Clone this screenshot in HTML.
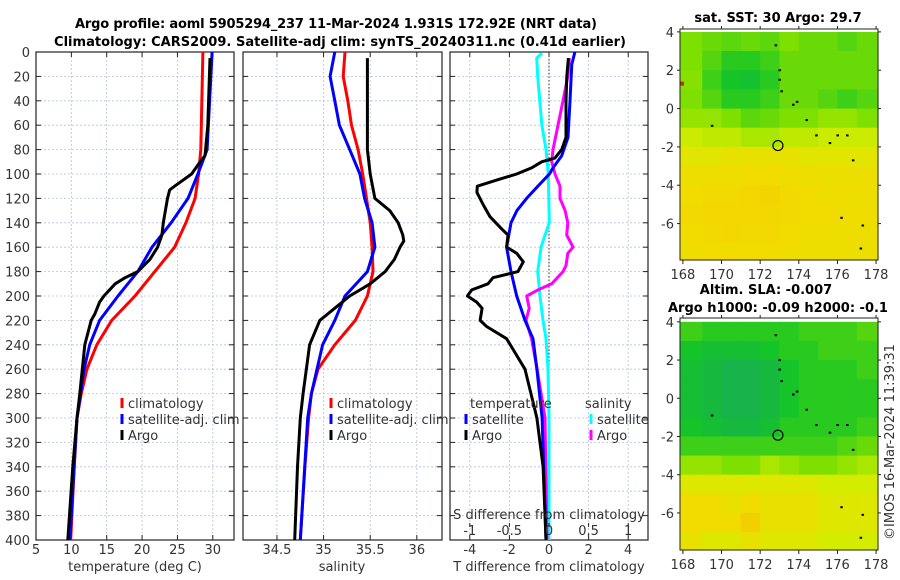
<!DOCTYPE html>
<html><head><meta charset="utf-8"><style>
html,body{margin:0;padding:0;background:#fff;}
svg{display:block;font-family:"DejaVu Sans","Liberation Sans",sans-serif;}
.tk{font-size:13px;fill:#333;}
.tt{font-size:13px;font-weight:bold;fill:#000;}
</style></head><body>
<svg id="c" width="900" height="580" viewBox="0 0 900 580" xmlns="http://www.w3.org/2000/svg">
<text class="tt" x="336" y="28" text-anchor="middle" textLength="522">Argo profile: aoml 5905294_237 11-Mar-2024 1.931S 172.92E (NRT data)</text>
<text class="tt" x="340" y="46" text-anchor="middle" textLength="572">Climatology: CARS2009. Satellite-adj clim: synTS_20240311.nc (0.41d earlier)</text>
<g id="g"></g>
<text class="tk" transform="translate(894,442) rotate(-90)" text-anchor="middle">©IMOS 16-Mar-2024 11:39:31</text>
</svg>
<script>
// ---- data ----
const tempDepthClim=[0,80,100,120,140,160,180,200,220,240,260,280,300,340,400];
const tempClim=[28.6,28.3,28.0,27.5,26.2,24.6,21.8,19.0,15.7,13.6,12.2,11.4,10.8,10.4,9.9];
const tempDepthSat=[0,80,100,120,140,160,180,200,220,240,260,300,400];
const tempSat=[29.9,29.2,27.9,26.5,24.1,21.4,19.4,16.6,14.0,12.6,11.8,10.8,9.8];
const tempDepthArgo=[5,60,85,90,100,110,113,120,140,150,160,170,180,185,190,200,205,215,220,240,280,300,340,400];
const tempArgo=[29.6,29.3,28.9,28.2,27.0,24.6,23.9,23.6,23.0,22.8,22.2,21.1,19.4,17.6,16.2,14.6,14.0,13.3,12.8,11.9,11.2,10.8,10.2,9.5];
const salDepthClim=[0,20,40,60,80,100,120,140,160,180,200,220,240,260,280,300,340,400];
const salClim=[35.23,35.21,35.26,35.30,35.37,35.42,35.46,35.50,35.52,35.53,35.47,35.34,35.12,34.94,34.87,34.84,34.80,34.75];
const salDepthSat=[0,20,40,60,80,100,120,140,160,180,200,220,240,280,300,400];
const salSat=[35.12,35.07,35.12,35.17,35.28,35.39,35.44,35.52,35.55,35.47,35.23,35.12,34.99,34.87,34.83,34.75];
const salDepthArgo=[5,80,100,120,130,140,150,155,160,170,180,190,200,210,220,240,280,300,340,400];
const salArgo=[35.47,35.47,35.50,35.55,35.71,35.80,35.85,35.86,35.82,35.76,35.66,35.50,35.28,35.12,34.96,34.85,34.78,34.75,34.72,34.69];
const dtDepthArgo=[5,20,40,70,80,87,90,95,100,105,110,115,125,135,145,150,160,165,172,180,185,190,195,200,205,210,220,225,235,260,300,340,400];
const dtArgo=[0.98,0.9,0.86,0.86,0.64,0.3,-0.37,-0.88,-1.63,-2.64,-3.62,-3.64,-3.33,-2.98,-2.39,-2.07,-2.14,-1.63,-1.3,-1.57,-2.83,-3.08,-3.9,-4.12,-3.65,-3.38,-3.48,-3.15,-2.14,-1.21,-0.61,-0.3,-0.15];
const dtDepthSat=[0,10,40,70,85,95,100,110,120,130,140,160,180,200,220,235,260,300,400];
const dtSat=[1.31,1.15,1.06,0.96,0.64,0.2,0.02,-0.56,-1.13,-1.62,-1.92,-2.14,-1.92,-1.63,-1.21,-0.81,-0.61,-0.35,-0.15];
const dsDepthSat=[1,5,20,60,80,100,140,150,160,180,200,220,235,260,300,400];
const dsSat=[-0.09,-0.155,-0.143,-0.09,-0.038,-0.009,0.004,-0.05,-0.1,-0.143,-0.114,-0.076,-0.038,-0.013,0,0];
const dsDepthArgo=[5,20,40,60,80,90,100,110,120,130,140,150,160,165,175,180,190,195,200,210,220,235,260,300,400];
const dsArgo=[0.257,0.237,0.177,0.114,0.051,0.034,0.076,0.139,0.139,0.203,0.237,0.224,0.304,0.237,0.215,0.177,0.034,-0.139,-0.282,-0.25,-0.29,-0.22,-0.15,-0.05,-0.025];
const depthTicks=[0,20,40,60,80,100,120,140,160,180,200,220,240,260,280,300,320,340,360,380,400];
const tempTicks=[5,10,15,20,25,30];
const salTicks=[34.5,35,35.5,36];
const dtTicks=[-4,-2,0,2,4];
const dsTickLabels=["-1","-0.5","0","0.5","1"];
const dsTicks=[-1,-0.5,0,0.5,1];
const mapLonTicks=[168,170,172,174,176,178];
const mapLatTicks=[4,2,0,-2,-4,-6];
const sstGrid=[
[0.5,0.45,0.42,0.45,0.42,0.5,0.45,0.45,0.4,0.45],
[0.5,0.4,0.3,0.3,0.35,0.45,0.45,0.45,0.45,0.45],
[0.52,0.35,0.25,0.22,0.3,0.45,0.45,0.45,0.45,0.45],
[0.5,0.4,0.3,0.3,0.35,0.45,0.45,0.4,0.35,0.4],
[0.55,0.55,0.5,0.42,0.45,0.5,0.5,0.55,0.55,0.5],
[0.68,0.65,0.65,0.6,0.6,0.65,0.65,0.68,0.68,0.68],
[0.77,0.77,0.8,0.8,0.8,0.8,0.77,0.77,0.77,0.77],
[0.83,0.83,0.84,0.85,0.85,0.84,0.83,0.82,0.82,0.82],
[0.85,0.86,0.86,0.87,0.88,0.86,0.85,0.84,0.83,0.83],
[0.86,0.87,0.87,0.87,0.87,0.86,0.85,0.85,0.84,0.84],
[0.85,0.86,0.87,0.86,0.86,0.85,0.84,0.84,0.83,0.83],
[0.84,0.85,0.85,0.85,0.85,0.84,0.83,0.83,0.82,0.82]];
const slaGrid=[
[0.35,0.3,0.3,0.3,0.3,0.3,0.35,0.35,0.35,0.4],
[0.25,0.2,0.2,0.2,0.25,0.3,0.3,0.35,0.35,0.35],
[0.2,0.15,0.1,0.1,0.15,0.25,0.3,0.3,0.3,0.35],
[0.2,0.15,0.1,0.1,0.15,0.25,0.3,0.3,0.3,0.3],
[0.2,0.15,0.1,0.1,0.15,0.25,0.3,0.3,0.3,0.3],
[0.25,0.2,0.15,0.15,0.2,0.3,0.3,0.3,0.3,0.35],
[0.35,0.35,0.35,0.35,0.35,0.35,0.35,0.35,0.4,0.45],
[0.55,0.55,0.5,0.5,0.6,0.55,0.5,0.5,0.55,0.6],
[0.75,0.75,0.75,0.75,0.75,0.75,0.75,0.7,0.7,0.7],
[0.85,0.85,0.8,0.85,0.8,0.8,0.8,0.75,0.75,0.75],
[0.85,0.85,0.85,0.9,0.8,0.8,0.8,0.75,0.75,0.75],
[0.8,0.75,0.75,0.8,0.75,0.75,0.75,0.7,0.7,0.7]];
const islandLon=[172.8,173.0,173.0,173.1,173.7,173.9,174.4,174.9,175.6,176.0,176.5,176.8,169.5,176.2,177.3,177.2];
const islandLat=[3.3,2.0,1.5,0.9,0.2,0.35,-0.6,-1.4,-1.8,-1.4,-1.4,-2.7,-0.9,-5.7,-6.1,-7.3];
const profLon=172.92, profLat=-1.931;

// ---- helpers ----
const NS="http://www.w3.org/2000/svg";
const G=document.getElementById('g');
function mk(tag,attrs,parent){const e=document.createElementNS(NS,tag);for(const k in attrs)e.setAttribute(k,attrs[k]);(parent||G).appendChild(e);return e;}
const top0=52,bot0=540;
const yD=d=>top0+(bot0-top0)*d/400;
function panel(x0,x1,xmin,xmax,name){
  const sx=v=>x0+(x1-x0)*(v-xmin)/(xmax-xmin);
  return {x0,x1,sx,name};
}
const P1=panel(36,234,5,33,'temperature');
const P2=panel(243,442,34.136,36.27,'salinity');
const P3=panel(450,648,-5,5,'t-diff');
const P3s=v=>P3.x0+(P3.x1-P3.x0)*(v+1.25)/2.5;

function grid(P,ticks){
  depthTicks.forEach(d=>{const l=mk('line',{x1:P.x0,x2:P.x1,y1:yD(d),y2:yD(d),stroke:'#b8c0e0','stroke-width':0.8,'stroke-dasharray':'2,2'});
    
    
    mk('line',{x1:P.x0,x2:P.x0+5,y1:yD(d),y2:yD(d),stroke:'#222'});
    mk('line',{x1:P.x1-5,x2:P.x1,y1:yD(d),y2:yD(d),stroke:'#222'});});
  ticks.forEach(v=>{const x=P.sx(v);const l=mk('line',{x1:x,x2:x,y1:top0,y2:bot0,stroke:'#b8c0e0','stroke-width':0.8,'stroke-dasharray':'2,2'});
    
    
    mk('line',{x1:x,x2:x,y1:bot0-5,y2:bot0,stroke:'#222'});
    mk('line',{x1:x,x2:x,y1:top0,y2:top0+5,stroke:'#222'});
    const t=mk('text',{x:x,y:554,'text-anchor':'middle',class:'tk'});t.textContent=String(v);
    
    });
  const r=mk('rect',{x:P.x0,y:top0,width:P.x1-P.x0,height:bot0-top0,fill:'none',stroke:'#222','stroke-width':1.2});
  
  
}
function line(P,sx,depths,vals,color,name){
  const pts=depths.map((d,i)=>sx(vals[i]).toFixed(1)+','+yD(d).toFixed(1)).join(' ');
  const l=mk('polyline',{points:pts,fill:'none',stroke:color,'stroke-width':3,'stroke-linejoin':'round'});
  
  
}
function txt(x,y,s,name,anchor,cls){const t=mk('text',{x:x,y:y,'text-anchor':anchor||'start',class:cls||'tk'});t.textContent=s;
  
  return t;}
function legend(x,y,color,label,name){
  mk('line',{x1:x,x2:x,y1:y-10,y2:y,stroke:color,'stroke-width':3});
  txt(x+6,y,label,name);
}

grid(P1,tempTicks);
depthTicks.forEach(d=>txt(30,yD(d)+5,String(d),'y-tick-label','end'));
line(P1,P1.sx,tempDepthClim,tempClim,'#f00','temp-climatology-line');
line(P1,P1.sx,tempDepthSat,tempSat,'#00f','temp-satellite-line');
line(P1,P1.sx,tempDepthArgo,tempArgo,'#000','temp-argo-line');
legend(122,408,'#f00','climatology','legend-climatology');
legend(122,424,'#00f','satellite-adj. clim','legend-satellite');
legend(122,440,'#000','Argo','legend-argo');
txt(135,571,'temperature (deg C)','x-axis-title-temperature','middle');

grid(P2,salTicks);
line(P2,P2.sx,salDepthClim,salClim,'#f00','sal-climatology-line');
line(P2,P2.sx,salDepthSat,salSat,'#00f','sal-satellite-line');
line(P2,P2.sx,salDepthArgo,salArgo,'#000','sal-argo-line');
legend(331,408,'#f00','climatology','legend-climatology-sal');
legend(331,424,'#00f','satellite-adj. clim','legend-satellite-sal');
legend(331,440,'#000','Argo','legend-argo-sal');
txt(342,571,'salinity','x-axis-title-salinity','middle');

grid(P3,dtTicks);
mk('line',{x1:P3.sx(0),x2:P3.sx(0),y1:top0,y2:bot0,stroke:'#333','stroke-width':1,'stroke-dasharray':'1.5,2'});
line(P3,P3s,dsDepthSat,dsSat,'#0ff','sdiff-satellite-line');
line(P3,P3s,dsDepthArgo,dsArgo,'#f0f','sdiff-argo-line');
line(P3,P3.sx,dtDepthSat,dtSat,'#00f','tdiff-satellite-line');
line(P3,P3.sx,dtDepthArgo,dtArgo,'#000','tdiff-argo-line');
txt(470,408,'temperature','legend-title-temperature');
legend(466,424,'#00f','satellite','legend-t-satellite');
legend(466,440,'#000','Argo','legend-t-argo');
txt(585,408,'salinity','legend-title-salinity');
legend(591,424,'#0ff','satellite','legend-s-satellite');
legend(591,440,'#f0f','Argo','legend-s-argo');
txt(549,519,'S difference from climatology','s-diff-axis-title','middle');
dsTicks.forEach((v,i)=>{const x=P3s(v);mk('line',{x1:x,x2:x,y1:523,y2:527,stroke:'#222'});
  txt(x,535,dsTickLabels[i],'s-diff-tick-label','middle');});
txt(549,571,'T difference from climatology','x-axis-title-t-diff','middle');

const cmap=[[0,[26,168,96]],[0.25,[20,196,40]],[0.5,[126,224,0]],[0.7,[212,236,0]],[0.85,[242,220,0]],[1,[240,180,0]]];
function col(v){for(let i=1;i<cmap.length;i++){if(v<=cmap[i][0]){const a=cmap[i-1],b=cmap[i],t=(v-a[0])/(b[0]-a[0]);
  return 'rgb('+a[1].map((c,k)=>Math.round(c+(b[1][k]-c)*t)).join(',')+')';}}return 'rgb(240,180,0)';}
function map(x0,x1,yTop,yBot,latTop,latBot,grid,name,red){
  const sx=lon=>x0+(x1-x0)*(lon-167.85)/(178.1-167.85);
  const sy=lat=>yTop+(yBot-yTop)*(latTop-lat)/(latTop-latBot);
  grid.forEach((row,r)=>row.forEach((v,c)=>{
    const la0=Math.min(4-r,latTop),la1=Math.max(3-r,latBot);
    const lo0=c===0?167.85:168+c,lo1=c===9?178.1:169+c;
    const e=mk('rect',{x:sx(lo0).toFixed(1),y:sy(la0).toFixed(1),width:(sx(lo1)-sx(lo0)+0.6).toFixed(1),height:(sy(la1)-sy(la0)+0.6).toFixed(1),fill:col(v)});
    
    
  }));
  if(red){const e=mk('rect',{x:sx(167.85),y:sy(1.3)-2,width:4,height:4,fill:'#c03000'});
    
    }
  islandLon.forEach((lo,i)=>{const e=mk('rect',{x:sx(lo)-1,y:sy(islandLat[i])-1,width:2.5,height:2,fill:'#000'});
    
    });
  const c=mk('circle',{cx:sx(profLon),cy:sy(profLat),r:5,fill:'none',stroke:'#000','stroke-width':1.2});
  
  
  const f=mk('rect',{x:x0,y:yTop,width:x1-x0,height:yBot-yTop,fill:'none',stroke:'#222'});
  
  
  mapLonTicks.forEach(lo=>{const x=sx(lo);mk('line',{x1:x,x2:x,y1:yBot,y2:yBot+4,stroke:'#222'});mk('line',{x1:x,x2:x,y1:yTop-3,y2:yTop,stroke:'#222'});
    txt(x,yBot+19,String(lo),name+'-lon-label','middle');});
  mapLatTicks.forEach(la=>{const y=sy(la);mk('line',{x1:x0-3,x2:x0,y1:y,y2:y,stroke:'#222'});mk('line',{x1:x1,x2:x1+3,y1:y,y2:y,stroke:'#222'});
    txt(x0-6,y+5,String(la),name+'-lat-label','end');});
}
map(680,878,29,260,4.15,-7.9,sstGrid,'sst-map',true);
map(680,878,318,550,4.2,-7.94,slaGrid,'sla-map',false);
txt(778,22,'sat. SST: 30 Argo: 29.7','sst-map-title','middle','tt');
txt(766,294,'Altim. SLA: -0.007','sla-map-title','middle','tt');
txt(778,312,'Argo h1000: -0.09 h2000: -0.1','sla-argo-heights','middle','tt');
</script>
</body></html>
